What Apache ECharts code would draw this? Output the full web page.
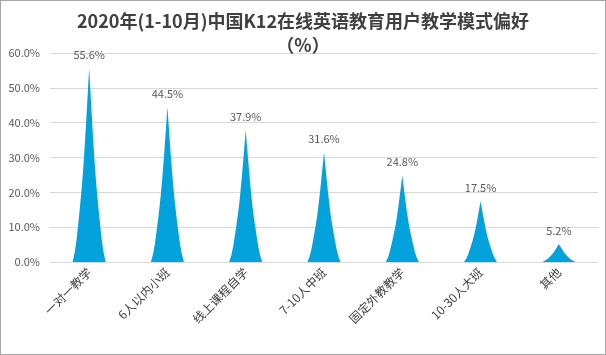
<!DOCTYPE html>
<html><head><meta charset="utf-8">
<script src="https://cdn.jsdelivr.net/npm/echarts@6/dist/echarts.min.js"></script>
<style>
html,body{margin:0;padding:0;background:#fff;}
#c{width:606px;height:355px;box-sizing:border-box;border:1px solid #a6a6a6;}
</style></head>
<body><div id="c"></div>
<script>
const titleText = '2020年(1-10月)中国K12在线英语教育用户教学模式偏好\n（%）';
const categories = ['一对一教学','6人以内小班','线上课程自学','7-10人中班','固定外教教学','10-30人大班','其他'];
const values = [55.6, 44.5, 37.9, 31.6, 24.8, 17.5, 5.2];
const yTicks = {min:0, max:60, interval:10};

const chart = echarts.init(document.getElementById('c'));
const FONT = '"Noto Sans CJK SC","Microsoft YaHei",sans-serif';
const spike = 'path://M0,10 L10,10 Q9.2,9.45 8.8,8.825 Q8.4,8.2 7.9,7.35 Q7.4,6.5 7.05,5.75 Q6.7,5 6.25,3.75 Q5.8,2.5 5,0 Q4.2,2.5 3.75,3.75 Q3.3,5 2.95,5.75 Q2.6,6.5 2.1,7.35 Q1.6,8.2 1.2,8.825 Q0.8,9.45 0,10 z';
chart.setOption({
  animation:false,
  textStyle:{fontFamily:FONT},
  title:{text:titleText, left:'center', top:3,
    textStyle:{fontSize:18, fontWeight:'bold', color:'#404040', lineHeight:24, fontFamily:FONT}},
  grid:{left:49, right:7, top:52, bottom:92, containLabel:false},
  xAxis:{type:'category', data:categories,
    axisLine:{show:false}, axisTick:{show:false},
    axisLabel:{rotate:45, interval:0, color:'#404040', fontSize:12, margin:8, fontFamily:FONT}},
  yAxis:{type:'value', min:yTicks.min, max:yTicks.max, interval:yTicks.interval,
    axisLine:{show:false}, axisTick:{show:false},
    splitLine:{lineStyle:{color:'#d9d9d9', width:1}},
    axisLabel:{color:'#595959', fontSize:11, margin:10, formatter:v=>v.toFixed(1)+'%', fontFamily:FONT}},
  series:[{
    type:'pictorialBar',
    data:values,
    symbol:spike,
    symbolSize:[33,'100%'],
    itemStyle:{color:'#03a2dc'},
    label:{show:true, position:'top', distance:8, color:'#595959', fontSize:11,
      formatter:p=>p.value.toFixed(1)+'%', fontFamily:FONT}
  }]
});
</script></body></html>
